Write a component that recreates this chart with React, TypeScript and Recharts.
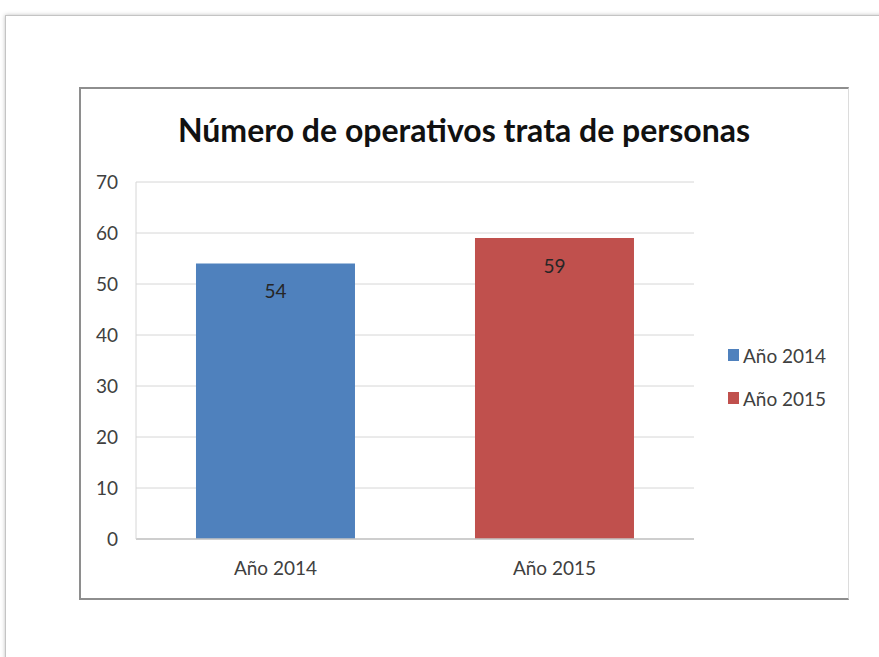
import React from 'react';
import { BarChart, Bar, XAxis, YAxis, CartesianGrid, Cell, LabelList } from 'recharts';

const categories = ['Año 2014', 'Año 2015'];
const values = [54, 59];
const colors = ['#4F81BD', '#C0504D'];
const yTicks = [0, 10, 20, 30, 40, 50, 60, 70];
const title = 'Número de operativos trata de personas';

const font = 'Lato, "Open Sans", sans-serif';

export default function App() {
  // one row per category, colour picked per cell
  const data = categories.map((name, i) => ({ name, value: values[i] }));

  return (
    <div style={{ position: 'absolute', left: 0, top: 0, width: 879, height: 657, background: '#fff', overflow: 'hidden', fontFamily: font }}>
      {/* page frame */}
      <div style={{ position: 'absolute', left: 5, top: 15, width: 900, height: 700, border: '1px solid #c4c4c4', boxShadow: '0 0 4px rgba(0,0,0,0.25)' }} />
      {/* chart box */}
      <div style={{ position: 'absolute', left: 79, top: 87, width: 767, height: 509, borderTop: '2px solid #8e8e8e', borderLeft: '2px solid #8e8e8e', borderBottom: '2px solid #8e8e8e', borderRight: '1px solid #dcdcdc', background: '#fff' }} />
      <div style={{ position: 'absolute', left: 80, top: 88 }}>
        <BarChart
          width={768}
          height={510}
          data={data}
          margin={{ top: 94, right: 154, bottom: 29, left: 0 }}
          barCategoryGap="21.5%"
        >
          <CartesianGrid vertical={false} stroke="#d6d6d6" />
          <XAxis
            dataKey="name"
            height={30}
            tickLine={false}
            axisLine={{ stroke: '#c4c4c4', strokeWidth: 1.5 }}
            tickMargin={17}
            tick={{ fill: '#404040', fontSize: 19, fontFamily: font }}
          />
          <YAxis
            width={56}
            domain={[0, 70]}
            ticks={yTicks}
            interval={0}
            tickLine={false}
            axisLine={{ stroke: '#d6d6d6' }}
            tickMargin={12}
            tick={{ fill: '#404040', fontSize: 19, fontFamily: font }}
          />
          <Bar dataKey="value" isAnimationActive={false}>
            {data.map((d, i) => (
              <Cell key={d.name} fill={colors[i]} />
            ))}
            <LabelList dataKey="value" position="insideTop" offset={21} fill="#262626" fontSize={19} fontFamily={font} />
          </Bar>
        </BarChart>
      </div>
      {/* title */}
      <div style={{ position: 'absolute', left: 80, width: 768, top: 110, textAlign: 'center', fontSize: 32, fontWeight: 700, color: '#111', lineHeight: '40px', whiteSpace: 'nowrap' }}>
        {title}
      </div>
      {/* legend */}
      {categories.map((c, i) => (
        <div key={c} style={{ position: 'absolute', left: 728, top: 342 + i * 43, height: 26, display: 'flex', alignItems: 'center', fontSize: 19, color: '#404040' }}>
          <span style={{ display: 'inline-block', width: 11, height: 12, background: colors[i], marginRight: 4 }} />
          {c}
        </div>
      ))}
    </div>
  );
}
